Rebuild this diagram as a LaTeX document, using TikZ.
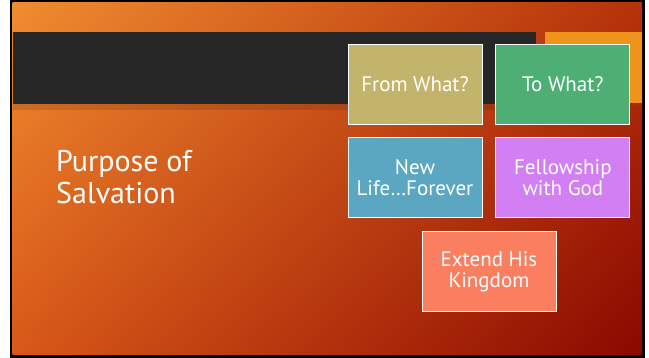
\documentclass[tikz,border=0pt]{standalone}
\usepackage{fontspec}
\setmainfont{PT Sans}
\usepackage{tikz}
\usetikzlibrary{positioning,shadings}
\definecolor{band}{HTML}{262626}
\definecolor{accent}{HTML}{EF941A}
\definecolor{khaki}{HTML}{C3B46C}
\definecolor{leaf}{HTML}{4DAF74}
\definecolor{sky}{HTML}{5BA6C0}
\definecolor{lilac}{HTML}{D27FF3}
\definecolor{salmon}{HTML}{F97F60}
\definecolor{slideUL}{HTML}{F08C30}
\definecolor{slideUR}{HTML}{B6320A}
\definecolor{slideLL}{HTML}{D85818}
\definecolor{slideLR}{HTML}{8A0800}

\begin{document}
\begin{tikzpicture}[x=1pt,y=1pt,
    tile/.style={draw=white,line width=0.9pt,minimum width=134pt,minimum height=80pt,
      inner sep=0pt,align=center,text=white,font=\fontsize{21}{21}\selectfont},
    node distance=13pt]
  \useasboundingbox (0,0) rectangle (649,358);
  % slide and frame
  \fill[black] (10,0) rectangle (645,358);
  \shade[upper left=slideUL,upper right=slideUR,lower left=slideLL,lower right=slideLR]
    (12.5,3.5) rectangle (642,355.3);
  \fill[band] (12.5,254) rectangle (536,326);
  \fill[black,opacity=0.12] (12.5,248) rectangle (536,254);
  \fill[accent] (545,255) rectangle (642,326);
  % title
  \node (title) [anchor=west,inner sep=0pt,align=left,text=white,
    font=\fontsize{30}{32}\selectfont] at (56,181) {Purpose of\\Salvation};
  % tiles
  \node (from) [tile,fill=khaki] at (415,274) {From What?};
  \node (to) [tile,fill=leaf,right=of from] {To What?};
  \node (life) [tile,fill=sky,below=of from] {New\\Life…Forever};
  \node (fellow) [tile,fill=lilac,below=of to] {Fellowship\\with God};
  \node (extend) [tile,fill=salmon,below=13pt of life.south east,xshift=6.5pt] {Extend His\\Kingdom};
\end{tikzpicture}
\end{document}
